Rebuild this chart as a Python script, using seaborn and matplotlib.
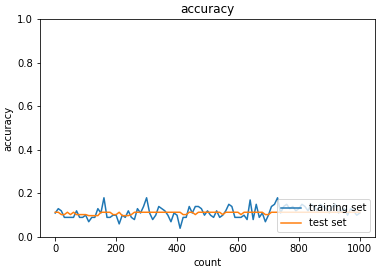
import numpy as np
import pandas as pd
import matplotlib
matplotlib.use("Agg")
import matplotlib.pyplot as plt
import seaborn as sns

count = list(range(0, 1001, 10))
train_acc = [0.11, 0.13, 0.12, 0.09, 0.09, 0.09, 0.09, 0.12, 0.09, 0.09,
             0.10, 0.07, 0.09, 0.09, 0.13, 0.11, 0.18, 0.09, 0.09, 0.10,
             0.10, 0.06, 0.10, 0.09, 0.12, 0.09, 0.08, 0.13, 0.11, 0.14,
             0.18, 0.11, 0.08, 0.10, 0.14, 0.13, 0.12, 0.10, 0.07, 0.11,
             0.10, 0.04, 0.09, 0.09, 0.14, 0.11, 0.14, 0.14, 0.13, 0.10,
             0.12, 0.10, 0.09, 0.12, 0.09, 0.10, 0.12, 0.15, 0.14, 0.09,
             0.09, 0.09, 0.10, 0.08, 0.17, 0.08, 0.15, 0.09, 0.11, 0.07,
             0.10, 0.14, 0.15, 0.18, 0.11, 0.14, 0.15, 0.13, 0.14, 0.12,
             0.13, 0.15, 0.14, 0.12, 0.15, 0.14, 0.12, 0.15, 0.14, 0.13,
             0.11, 0.14, 0.15, 0.11, 0.12, 0.13, 0.10, 0.13, 0.12, 0.10,
             0.11]
test_acc = [0.1135, 0.1135, 0.1028, 0.1028, 0.1135, 0.1028, 0.1135, 0.1028, 0.1028, 0.1028,
            0.1028, 0.098, 0.098, 0.098, 0.098, 0.1135, 0.1135, 0.1135, 0.1135, 0.1028,
            0.1028, 0.1135, 0.098, 0.098, 0.098, 0.1028, 0.1135, 0.1135, 0.1135, 0.1135,
            0.1135, 0.1135, 0.1135, 0.1135, 0.1135, 0.1135, 0.1135, 0.1135, 0.1135, 0.1135,
            0.1135, 0.1135, 0.1028, 0.1028, 0.1135, 0.1135, 0.1028, 0.1135, 0.1135, 0.1135,
            0.1135, 0.1135, 0.1135, 0.1135, 0.1135, 0.1028, 0.1135, 0.1135, 0.1135, 0.1135,
            0.1135, 0.1028, 0.1135, 0.1135, 0.1135, 0.1135, 0.1135, 0.1135, 0.1135, 0.1028,
            0.1028, 0.1135, 0.1135, 0.1135, 0.1135, 0.1135, 0.1135, 0.1135, 0.1135, 0.1135,
            0.1135, 0.1135, 0.1135, 0.1135, 0.1135, 0.1135, 0.1135, 0.1135, 0.1135, 0.1135,
            0.1135, 0.1135, 0.1135, 0.1135, 0.1135, 0.1135, 0.1135, 0.1135, 0.1135, 0.1135,
            0.1135]

df = pd.DataFrame({"count": count, "train": train_acc, "test": test_acc})

fig = plt.figure(figsize=(385/72, 274/72), dpi=72)
ax = fig.add_axes([40/385, 1-237/274, 335/385, 218/274])
sns.lineplot(data=df, x="count", y="train", ax=ax, label="training set", color="#1f77b4")
sns.lineplot(data=df, x="count", y="test", ax=ax, label="test set", color="#ff7f0e")
ax.set_ylim(0, 1.0)
ax.set_xlabel("count")
ax.set_ylabel("accuracy")
ax.set_title("accuracy")
ax.legend(loc="lower right")
fig.savefig("out.png", dpi=72)
